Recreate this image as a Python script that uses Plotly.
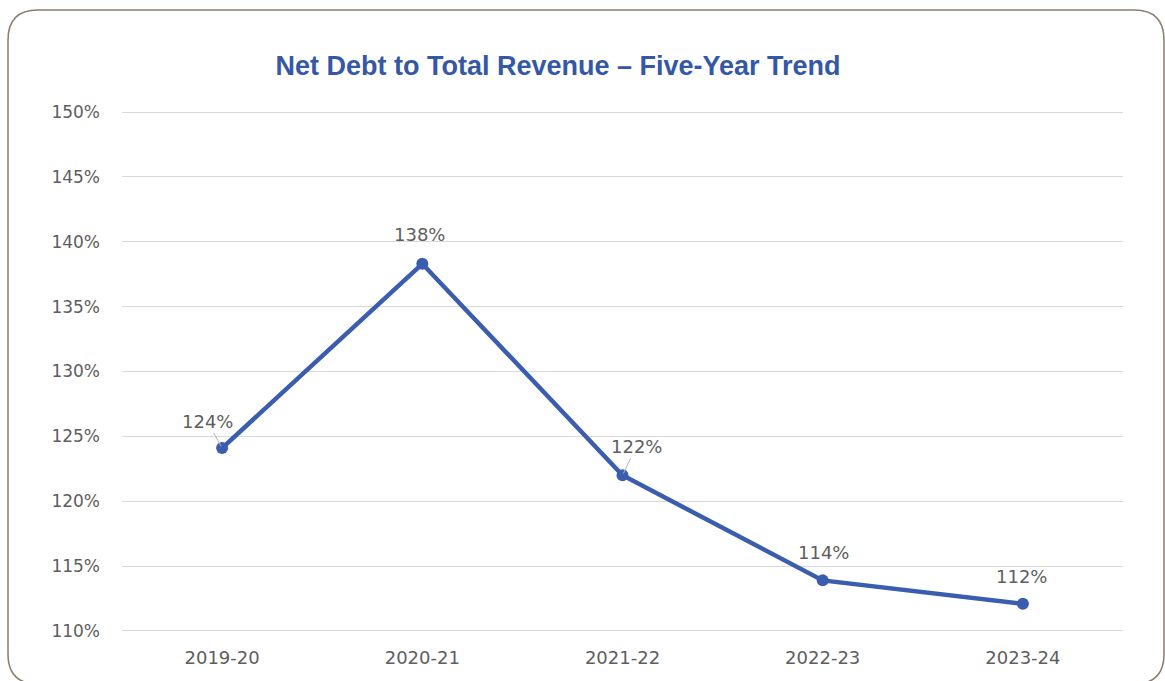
import plotly.graph_objects as go

# Net debt as a share of total revenue, by financial year
years = ["2019-20", "2020-21", "2021-22", "2022-23", "2023-24"]
ratio_pct = [124.1, 138.3, 122.0, 113.9, 112.1]
y_ticks = [110, 115, 120, 125, 130, 135, 140, 145, 150]
y_tick_text = [f"{t}%" for t in y_ticks]

# Figure geometry (pixels)
W, H = 1165, 681
ML, MR, MT, MB = 122, 42, 111, 49
PW, PH = W - ML - MR, H - MT - MB
Y_LO, Y_HI = 109.92, 150.08

LINE_BLUE = "#3B5DAF"
TITLE_BLUE = "#3457A8"
TEXT_GREY = "#5E5E5E"
GRID_GREY = "#D9D9D9"
FRAME = "#8C7D6E"
FONT = "DejaVu Sans, Verdana, sans-serif"

# label placement per point: (x offset, y offset, draw leader line)
label_place = {
    "2019-20": (-15, -27, True),
    "2020-21": (-3, -29, False),
    "2021-22": (14, -29, True),
    "2022-23": (1, -28, False),
    "2023-24": (-1, -27, False),
}


def px_x(px):
    return (px - ML) / PW


def px_y(py):
    return (H - MB - py) / PH


fig = go.Figure(
    go.Scatter(
        x=years,
        y=ratio_pct,
        mode="lines+markers",
        line=dict(color=LINE_BLUE, width=4.5),
        marker=dict(color=LINE_BLUE, size=12),
        hovertemplate="%{x}: %{y:.0f}%<extra></extra>",
    )
)

for yr, v in zip(years, ratio_pct):
    dx, dy, leader = label_place[yr]
    text = f"{round(v)}%"
    font = dict(family=FONT, size=18, color=TEXT_GREY)
    if leader:
        fig.add_annotation(
            x=yr, y=v, text=text, font=font,
            showarrow=True, ax=dx, ay=dy, arrowhead=0,
            arrowwidth=1, arrowcolor="#B5B5B5", standoff=2,
        )
    else:
        fig.add_annotation(
            x=yr, y=v, text=text, font=font,
            showarrow=False, xshift=dx, yshift=-dy,
        )

# rounded outer frame
x0, x1 = px_x(8), px_x(1164)
y0, y1 = px_y(10), px_y(684)
rx, ry = 30 / PW, 30 / PH
frame_path = (
    f"M {x0 + rx},{y0} L {x1 - rx},{y0} Q {x1},{y0} {x1},{y0 - ry} "
    f"L {x1},{y1 + ry} Q {x1},{y1} {x1 - rx},{y1} "
    f"L {x0 + rx},{y1} Q {x0},{y1} {x0},{y1 + ry} "
    f"L {x0},{y0 - ry} Q {x0},{y0} {x0 + rx},{y0} Z"
)
fig.add_shape(
    type="path", path=frame_path, xref="paper", yref="paper",
    line=dict(color=FRAME, width=1.5), layer="above",
)

fig.update_layout(
    width=W,
    height=H,
    margin=dict(l=ML, r=MR, t=MT, b=MB),
    paper_bgcolor="white",
    plot_bgcolor="white",
    showlegend=False,
    title=dict(
        text="Net Debt to Total Revenue – Five-Year Trend",
        font=dict(family="Liberation Sans, Arial, sans-serif", size=27,
                  color=TITLE_BLUE, weight="bold"),
        xref="container", yref="container",
        x=558 / W, y=1 - 66 / H, xanchor="center", yanchor="middle",
    ),
    xaxis=dict(
        range=[-0.5, len(years) - 0.5],
        showgrid=False,
        showline=False,
        zeroline=False,
        tickfont=dict(family=FONT, size=18, color=TEXT_GREY),
        ticklabelstandoff=13,
    ),
    yaxis=dict(
        range=[Y_LO, Y_HI],
        tickmode="array",
        tickvals=y_ticks,
        ticktext=y_tick_text,
        showgrid=True,
        gridcolor=GRID_GREY,
        gridwidth=1,
        zeroline=False,
        showline=False,
        tickfont=dict(family=FONT, size=17, color=TEXT_GREY),
        ticklabelstandoff=21,
    ),
)

fig.write_html("out.html")
